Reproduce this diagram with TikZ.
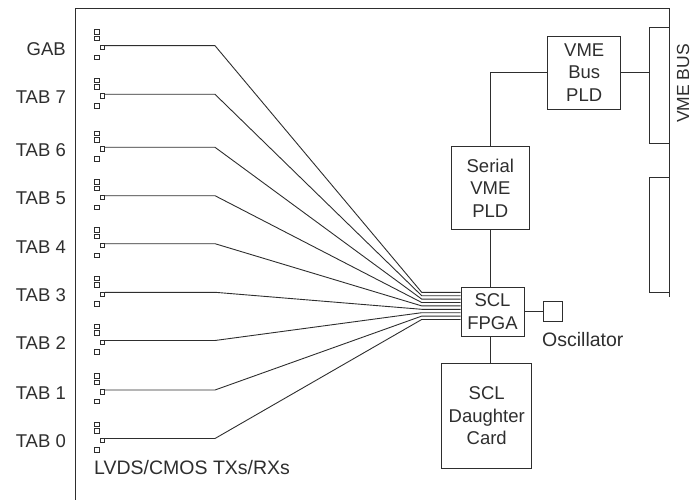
\documentclass[tikz,border=0pt]{standalone}
\usepackage{fontspec}
\setmainfont{Liberation Sans}
\usetikzlibrary{calc}
\definecolor{ln}{HTML}{2E2E2E}
\begin{document}
\begin{tikzpicture}[x=1pt,y=-1pt,
  every node/.style={font=\fontsize{18.5}{22.5}\selectfont, inner sep=0pt, text=ln},
  big/.style={font=\fontsize{19.5}{23}\selectfont},
  box/.style={draw=ln, line width=0.9pt, align=center},
  sq/.style={draw=ln, line width=0.7pt, minimum size=4.5pt, inner sep=0pt},
  wire/.style={draw=ln, line width=0.9pt}]
\useasboundingbox (0,0) rectangle (696,500);
% frame
\draw[wire] (75,500) -- (75,8) -- (669,8) -- (669,297);
% bus slots
\node[box, minimum width=20pt, minimum height=116pt] (slot1) at (659,85) {};
\node[box, minimum width=20pt, minimum height=115pt] (slot2) at (659,234.5) {};
\node[rotate=90, anchor=west, font=\fontsize{17.5}{21}\selectfont] (vmebus) at (683,123) {VME BUS};
% blocks
\node[box, minimum width=73pt, minimum height=73pt] (bpld) at (584.2,72.5) {VME\\Bus\\PLD};
\node[box, minimum width=77.3pt, minimum height=82.6pt] (spld) at (490.3,188) {Serial\\VME\\PLD};
\node[box, minimum width=63pt, minimum height=48.7pt] (fpga) at (492.5,311.7) {SCL\\FPGA};
\node[box, minimum width=90pt, minimum height=104.7pt] (dc) at (486.7,415.7) {SCL\\Daughter\\Card};
\node[box, minimum width=19.4pt, minimum height=20pt] (osc) at (553,311.7) {};
\node[anchor=west, big] (osclab) at (542,340) {Oscillator};
\node[anchor=west, big] (lvds) at (94,468) {LVDS/CMOS TXs/RXs};
% connections
\draw[wire] (spld.north) |- (bpld.west);
\draw[wire] (bpld.east) -- (bpld.east -| slot1.west);
\draw[wire] (spld.south) -- (spld.south |- fpga.north);
\coordinate (fb) at (fpga.south -| spld.south);
\draw[wire] (fb) -- (fb |- dc.north);
\draw[wire] (fpga.east) -- (osc.west);
% TAB groups
\foreach \i/\L/\lab in {0/45.7/GAB,1/94.3/TAB 7,2/147.3/TAB 6,3/195.7/TAB 5,4/243.7/TAB 4,5/292.3/TAB 3,6/340.5/TAB 2,7/390/TAB 1,8/438.5/TAB 0}{
  \node[anchor=east] (lab\i) at (66,\L+3) {\lab};
  \node[sq] (a\i) at (97,\L-14) {};
  \node[sq] (b\i) at (97,\L-7.5) {};
  \node[sq] (s\i) at (102.5,\L+1.8) {};
  \node[sq] (d\i) at (97,\L+11.5) {};
  \coordinate (k\i) at (215,\L);
  \coordinate (m\i) at (421.7,292.3+3.4*\i);
  \draw[wire] (s\i.east |- k\i) -- (k\i) -- (m\i) -- (m\i -| fpga.west);
}
\end{tikzpicture}
\end{document}
